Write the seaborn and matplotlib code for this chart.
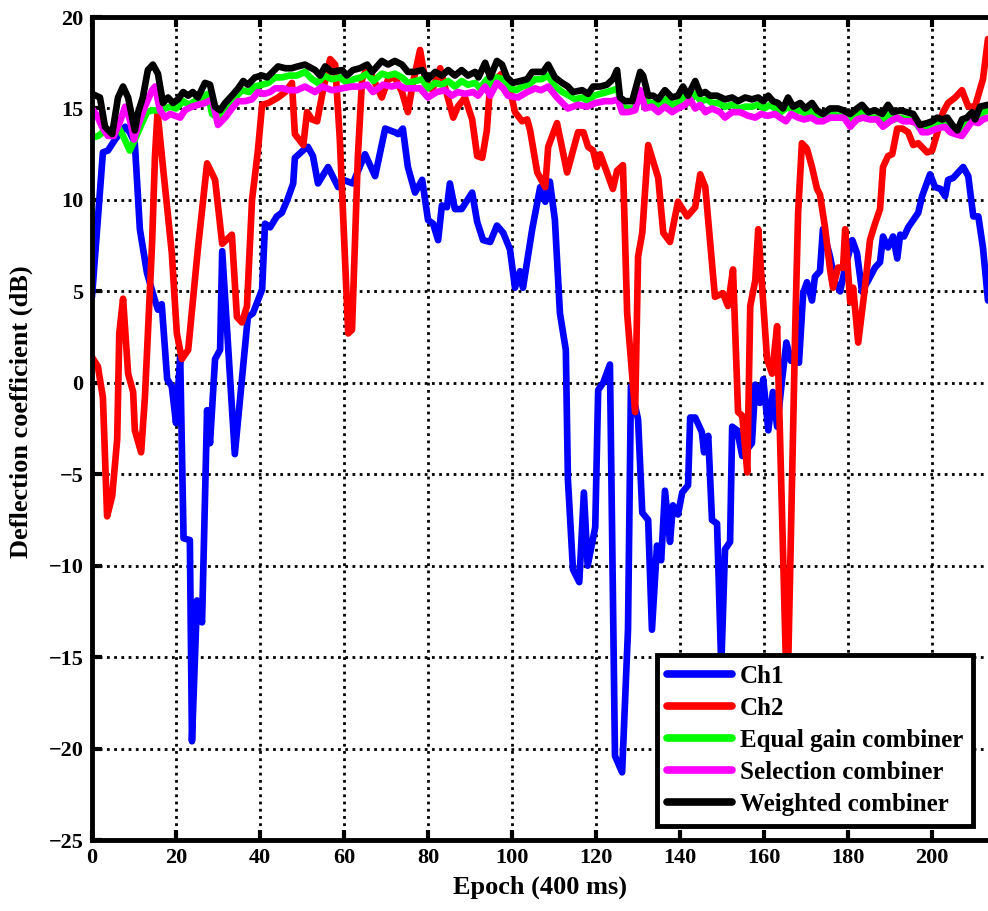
import numpy as np
import pandas as pd
import matplotlib
matplotlib.use("Agg")
import matplotlib.pyplot as plt
import seaborn as sns

ch1_x = [0, 2.6, 3.8, 5.5, 7.9, 9, 10.2, 11.4, 13.1, 15, 15.7, 16.6, 17.9, 19, 20, 21, 21.8, 23.3, 23.8, 25, 26.2, 27.4, 28.1, 29.3, 30.5, 31, 34, 37.1, 38.3, 40.5, 41.2, 42.4, 44, 45.2, 46.5, 47.9, 48.3, 50.7, 51.4, 52.6, 53.8, 56.2, 58.6, 59.8, 62.1, 65, 67.4, 69.8, 72.1, 72.9, 74, 75.2, 76.9, 78.6, 80, 81.2, 82.4, 83.3, 84.5, 85.2, 86.4, 88, 90.5, 91.7, 93.1, 94.8, 96.4, 97.9, 99.5, 100.7, 101.9, 102.6, 104.8, 106.7, 107.9, 109, 110.2, 111.4, 112.8, 113.3, 114.5, 116, 117.1, 118, 119.8, 120.5, 121.7, 123.3, 124.5, 126.2, 127.6, 128.3, 130, 131, 132.4, 133.3, 134.5, 135.5, 136.4, 137.6, 138.3, 139.5, 140.5, 141.9, 142.4, 143.6, 145.2, 145.7, 146.7, 147.6, 148.8, 149.8, 150.7, 151.9, 152.4, 153.6, 154.8, 157.1, 157.9, 159, 159.8, 161, 162.1, 163.1, 164.3, 165.3, 166.4, 167.4, 168.3, 169.3, 170.2, 171.4, 172.1, 173.3, 174, 175.7, 176.9, 178.1, 179.3, 181, 182.1, 183.3, 184.8, 186.4, 187.6, 188.3, 189.5, 190.7, 191.7, 192.4, 193.3, 194.3, 196.7, 197.6, 199.5, 200.7, 202, 203.1, 203.8, 205, 207.4, 208.6, 209.8, 211, 212.1, 213.3]
ch1_y = [4.7, 12.6, 12.7, 13.3, 14.0, 13.7, 13.1, 8.4, 6.0, 4.5, 4.0, 4.3, 0.2, -0.2, -2.2, 1.4, -8.5, -8.6, -19.6, -11.9, -13.1, -1.5, -3.3, 1.3, 1.8, 7.2, -3.9, 3.6, 3.8, 5.1, 8.7, 8.5, 9.1, 9.3, 10.0, 10.9, 12.3, 12.8, 12.9, 12.4, 10.9, 11.8, 10.7, 11.1, 10.9, 12.5, 11.3, 13.9, 13.7, 13.6, 13.9, 11.8, 10.4, 11.1, 8.9, 8.7, 7.8, 9.7, 9.6, 10.9, 9.5, 9.5, 10.4, 8.8, 7.8, 7.7, 8.6, 8.2, 7.3, 5.2, 6.1, 5.2, 8.4, 10.7, 9.9, 11.0, 8.9, 3.8, 1.8, -5.3, -10.2, -10.9, -6.0, -10.0, -7.9, -0.4, 0.0, 1.0, -20.4, -21.3, -13.5, -0.2, -2.0, -7.1, -7.5, -13.5, -8.9, -9.7, -5.9, -8.7, -6.7, -7.2, -6.0, -5.6, -1.9, -1.9, -2.7, -3.8, -2.9, -7.5, -7.7, -15.5, -9.1, -8.7, -2.4, -2.6, -4.0, -3.3, -0.1, -1.1, 0.2, -2.6, -0.5, -2.4, 0.2, 2.2, 1.2, 1.6, 1.1, 4.9, 5.5, 4.5, 5.8, 6.1, 8.4, 6.9, 5.5, 5.0, 6.3, 7.8, 7.1, 5.0, 5.6, 6.3, 6.6, 8.0, 7.4, 8.0, 6.8, 8.1, 8.0, 8.5, 9.3, 10.2, 11.4, 10.7, 10.6, 10.2, 11.1, 11.2, 11.8, 11.3, 9.1, 9.1, 7.4, 4.5]

ch2_x = [0, 1.4, 2.6, 3.6, 4.8, 6, 6.5, 7.4, 8.6, 9.8, 10.2, 11.7, 12.6, 14.3, 15, 15.6, 16.9, 19, 20.2, 21.4, 22.9, 25.2, 27.4, 29.3, 31, 33.3, 34.5, 35.7, 36.9, 38.1, 39.5, 40.5, 42, 44.3, 46, 47.6, 48.3, 50.3, 51.2, 52.4, 53.6, 55, 56.7, 57.9, 59, 61, 61.9, 63.3, 64.3, 65.7, 67.4, 69, 70.5, 72.1, 73.8, 75.2, 76.4, 78.1, 79.3, 81, 82.9, 84, 86, 87.1, 88.8, 90.5, 91.7, 92.9, 94, 94.8, 96, 97.6, 99, 100.7, 102.4, 103.6, 104.3, 106, 107.9, 108.6, 110.7, 113.1, 115.7, 117, 118.1, 119.3, 120.2, 121, 122.6, 124, 125, 126.4, 127.4, 129.3, 130, 131, 132.4, 134.8, 136, 137.6, 139.5, 141.7, 143.6, 144.8, 146, 148.3, 150.2, 151.4, 152.6, 153.8, 154.8, 156, 156.7, 157.9, 158.6, 160.7, 161.9, 163.1, 165.5, 167.4, 168.1, 169, 170.2, 171.4, 172.6, 173.3, 174.5, 175.7, 176.4, 177.6, 178.8, 179.3, 180.5, 181.2, 182.4, 184, 185.2, 186.4, 187.6, 188.3, 189.5, 190.5, 191.7, 192.9, 194.3, 195.5, 196.7, 198.8, 200, 201.4, 202.6, 203.8, 205.5, 207.1, 208.6, 210.2, 212.1, 213.3]
ch2_y = [1.4, 0.9, -0.8, -7.3, -6.2, -3.1, 2.7, 4.6, 0.5, -0.5, -2.6, -3.8, -0.8, 7.6, 12.4, 14.8, 11.8, 7.1, 2.7, 1.3, 1.8, 7.3, 12.0, 11.1, 7.6, 8.1, 3.6, 3.3, 4.2, 10.0, 12.7, 15.2, 15.3, 15.6, 15.9, 16.4, 13.6, 13.0, 14.8, 14.4, 14.3, 16.0, 17.7, 17.4, 13.3, 2.7, 2.9, 12.4, 16.6, 17.3, 16.4, 15.6, 16.6, 16.7, 15.9, 14.8, 16.4, 18.2, 16.6, 16.0, 17.2, 16.2, 14.5, 15.1, 15.6, 14.4, 12.4, 12.3, 13.8, 16.4, 16.6, 16.9, 16.6, 14.8, 14.3, 14.4, 13.8, 11.5, 10.7, 12.9, 14.2, 11.5, 13.7, 13.7, 12.9, 12.7, 11.8, 12.5, 11.5, 10.6, 11.6, 11.9, 3.8, -1.6, 6.9, 8.2, 13.0, 11.2, 8.2, 7.7, 9.9, 9.1, 9.6, 11.4, 10.7, 4.7, 4.9, 4.2, 6.2, -1.6, -1.8, -4.9, 4.2, 5.6, 8.4, 1.3, 0.5, 3.1, -18.0, 2.9, 9.3, 13.1, 12.8, 11.8, 10.6, 10.3, 8.5, 6.2, 5.2, 6.3, 6.3, 8.4, 4.4, 5.2, 2.2, 5.2, 7.8, 8.7, 9.5, 11.8, 12.4, 12.5, 13.9, 13.9, 13.7, 13.0, 13.1, 12.6, 12.7, 13.8, 14.8, 15.3, 15.6, 16.0, 15.1, 15.1, 16.6, 18.8]

egc_x = [0, 1.5, 3.1, 5.5, 6.2, 7.4, 9, 10.2, 11.9, 13.1, 14.3, 15.7, 17.4, 18.6, 20, 21.7, 23, 24.5, 26.2, 27.6, 28.6, 29.8, 31, 32.6, 34.1, 35.7, 37.4, 38.8, 40.5, 42, 43.6, 45.2, 47, 48.8, 50.7, 52.4, 53.8, 55.2, 57.1, 59, 60.7, 62.4, 64, 65.5, 67, 69, 70.5, 72.1, 73.8, 75.2, 77, 78.6, 80, 81.7, 83.3, 84.8, 86.4, 88, 89.5, 91.2, 92.4, 94, 95.2, 96.4, 98, 99.5, 101, 102.4, 104, 105.5, 107, 108.6, 110.2, 112, 113.6, 115, 116.7, 118.1, 119.5, 121, 122.6, 124, 125.2, 126, 127.4, 129, 130.5, 131.4, 132.6, 134, 135.2, 136.7, 138.1, 139.5, 140.9, 142.1, 143.6, 145, 146.4, 147.6, 149, 150.7, 152.4, 154, 155.5, 157.1, 158.6, 160, 161.4, 162.6, 164, 165.7, 167.1, 168.6, 170, 171.4, 172.6, 174, 175.7, 177.6, 179, 180.5, 182.1, 183.3, 185, 186.4, 188.1, 189.5, 190.9, 192.4, 194, 195.5, 197.1, 198.8, 200, 201.4, 202.6, 204, 205, 206.2, 207.4, 208.6, 209.8, 211, 212.1, 213.3]
egc_y = [13.4, 13.5, 13.8, 13.7, 14.0, 13.5, 12.7, 13.3, 14.2, 14.8, 14.9, 14.9, 15.0, 15.1, 15.0, 15.4, 15.2, 15.4, 15.6, 15.8, 14.7, 14.5, 14.9, 15.3, 15.6, 16.0, 15.9, 16.2, 16.3, 16.4, 16.7, 16.7, 16.8, 16.8, 17.0, 16.6, 16.4, 16.8, 16.6, 16.7, 16.4, 16.6, 16.7, 16.9, 16.5, 16.9, 16.8, 16.9, 16.7, 16.4, 16.5, 16.6, 16.1, 16.4, 16.3, 16.5, 16.2, 16.5, 16.3, 16.4, 16.1, 16.6, 16.2, 16.7, 16.6, 16.1, 16.0, 16.2, 16.3, 16.6, 16.6, 16.8, 16.2, 15.9, 15.7, 15.5, 15.6, 15.4, 15.7, 15.8, 15.9, 16.0, 16.1, 15.1, 15.0, 15.0, 15.6, 15.8, 15.3, 15.3, 15.1, 15.5, 15.2, 15.3, 15.7, 15.3, 15.8, 15.4, 15.5, 15.3, 15.3, 15.1, 15.2, 15.0, 15.1, 15.1, 15.2, 15.0, 15.2, 15.0, 14.8, 15.1, 14.8, 14.9, 14.7, 14.9, 14.6, 14.4, 14.7, 14.6, 14.6, 14.4, 14.6, 14.8, 14.5, 14.5, 14.3, 14.7, 14.4, 14.5, 14.4, 14.4, 13.9, 14.0, 14.1, 14.2, 14.2, 14.2, 13.9, 13.8, 14.1, 14.3, 14.5, 14.4, 14.8, 14.9]

sc_x = [0, 1.2, 2.4, 3.8, 5.2, 6.7, 7.9, 9, 10, 11, 12.6, 14.3, 15, 16.2, 17.4, 18.6, 19.8, 21, 22.1, 23.8, 25.2, 26.9, 28.6, 30, 31.7, 33.3, 34.8, 36.4, 38.1, 39.5, 41, 42.4, 43.6, 45.5, 47, 48.8, 50.7, 53.1, 54.8, 57.1, 59.5, 61.9, 63.8, 65.5, 66.9, 69.3, 71.4, 72.9, 74.5, 76.2, 78.1, 80, 82.1, 84, 85.7, 87.1, 88.8, 90.7, 91.9, 93.6, 94.8, 96.4, 97.9, 99, 101.4, 103.6, 105.5, 106.9, 108.6, 110.7, 113.3, 115.7, 117.9, 119.8, 122.1, 123.8, 125.2, 126.2, 127.6, 129.3, 130.5, 131.7, 133.3, 134.8, 136.4, 138.1, 139.5, 141.2, 142.4, 143.6, 144.8, 146, 147.6, 149.5, 150.7, 152.4, 154.3, 156.2, 157.9, 159.3, 160.9, 162.6, 163.8, 165.2, 166.4, 168.1, 169.5, 171.2, 172.6, 174, 175.7, 177.6, 179, 180.5, 182.1, 183.6, 185.2, 186.9, 188.3, 190, 191.7, 193.1, 194.8, 196.4, 197.6, 199, 201.2, 203.1, 204.3, 205.5, 207.1, 208.3, 209.5, 211, 212.1, 213.3]
sc_y = [15.0, 14.6, 14.0, 13.5, 13.5, 14.3, 15.1, 14.4, 13.3, 14.1, 15.1, 16.0, 16.2, 14.9, 14.5, 14.7, 14.6, 14.5, 14.9, 15.1, 15.2, 15.3, 15.5, 14.1, 14.5, 15.0, 15.4, 15.4, 15.5, 15.9, 15.8, 15.9, 16.1, 16.1, 16.0, 16.0, 16.2, 15.9, 16.2, 16.0, 16.1, 16.2, 16.2, 16.3, 15.9, 16.3, 16.2, 16.3, 16.1, 16.1, 16.1, 15.6, 15.9, 16.0, 15.7, 15.9, 15.8, 15.9, 15.7, 16.2, 15.7, 16.4, 16.1, 15.7, 15.6, 15.9, 16.1, 16.0, 16.2, 15.6, 15.0, 15.2, 15.1, 15.3, 15.4, 15.4, 15.5, 14.8, 14.8, 14.9, 16.0, 15.0, 15.1, 14.8, 15.1, 14.8, 15.0, 15.2, 15.5, 15.0, 15.2, 14.8, 15.0, 14.8, 14.5, 14.8, 14.8, 14.6, 14.5, 14.7, 14.6, 14.7, 14.5, 14.3, 14.7, 14.5, 14.4, 14.5, 14.3, 14.3, 14.5, 14.5, 14.5, 14.0, 14.4, 14.5, 14.4, 14.4, 14.0, 14.3, 14.5, 14.3, 14.3, 14.2, 13.7, 13.7, 13.9, 14.0, 13.7, 13.6, 13.5, 13.9, 14.3, 14.2, 14.4, 14.5]

wc_x = [0, 1.9, 3.1, 4.8, 6.2, 7.4, 8.6, 10.2, 11, 12.1, 13.3, 14.5, 15.7, 16.9, 18.1, 19.3, 20.5, 21.7, 22.9, 24, 25.2, 26.9, 28.1, 29.3, 30.5, 31.7, 33.3, 34.8, 36, 37.1, 38.8, 40.5, 41.7, 43, 44.3, 46, 47.5, 49, 50.7, 53.1, 54.3, 55.5, 57.1, 59.5, 60.7, 62.1, 63.8, 65.5, 66.7, 69, 70.5, 72.1, 73.8, 75.2, 76.9, 78.6, 80, 81.7, 83.3, 84.8, 86.4, 88, 89.5, 91.2, 92, 93.6, 94.8, 96.4, 97.6, 98.8, 100.2, 101.9, 103.6, 104.8, 106.2, 107.4, 108.6, 110.2, 111.9, 113.3, 114.5, 116.7, 118.1, 119.3, 121, 122.6, 124, 125, 125.7, 126.9, 128.6, 130.5, 131.2, 132.4, 133.6, 134.8, 136.4, 138.1, 139.5, 140.7, 141.9, 143.6, 144.8, 146, 147.1, 148.8, 150.7, 152.4, 153.8, 155.5, 157.1, 158.6, 159.8, 161, 162.1, 163.3, 164.5, 165.7, 166.9, 168.6, 169.8, 171.4, 172.6, 174, 175.7, 177.6, 178.8, 180.5, 182.1, 183.3, 184.8, 186.4, 188.1, 189.5, 190.7, 192.4, 194, 195.5, 197.1, 198.8, 200, 201.2, 202.4, 203.6, 204.8, 206, 207.1, 208.3, 209.5, 210.2, 211.4, 213.3]
wc_y = [15.8, 15.6, 14.0, 13.6, 15.6, 16.2, 15.6, 13.8, 14.8, 15.6, 17.1, 17.4, 16.9, 15.3, 15.6, 15.3, 15.5, 15.9, 15.7, 15.9, 15.6, 16.4, 16.3, 15.1, 14.9, 15.3, 15.7, 16.1, 16.5, 16.3, 16.7, 16.8, 16.7, 17.0, 17.3, 17.2, 17.2, 17.3, 17.4, 17.1, 16.8, 17.3, 17.0, 17.1, 16.8, 17.1, 17.2, 17.4, 17.0, 17.6, 17.4, 17.6, 17.4, 17.0, 17.0, 17.1, 16.6, 17.0, 16.8, 17.1, 16.8, 17.1, 16.8, 17.0, 16.7, 17.5, 16.7, 17.6, 17.4, 16.7, 16.4, 16.5, 16.6, 17.0, 17.0, 17.0, 17.4, 16.7, 16.4, 16.2, 15.9, 16.0, 15.8, 16.2, 16.2, 16.3, 16.6, 17.1, 15.6, 15.4, 15.4, 17.0, 16.8, 15.7, 15.7, 15.5, 16.0, 15.6, 15.7, 16.2, 15.7, 16.5, 15.8, 15.9, 15.7, 15.7, 15.5, 15.6, 15.4, 15.6, 15.5, 15.6, 15.4, 15.7, 15.4, 15.3, 15.0, 15.6, 15.1, 15.3, 15.0, 15.3, 14.9, 14.7, 15.0, 15.0, 14.9, 14.7, 15.0, 15.2, 14.8, 14.9, 14.7, 15.2, 14.8, 14.9, 14.8, 14.7, 14.1, 14.2, 14.3, 14.5, 14.4, 14.5, 14.1, 13.8, 14.4, 14.5, 14.8, 14.4, 15.1, 15.2]

labels = ["Ch1", "Ch2", "Equal gain combiner", "Selection combiner", "Weighted combiner"]
colors = ["#0000FF", "#FF0000", "#00FF00", "#FF00FF", "#000000"]
xs = [ch1_x, ch2_x, egc_x, sc_x, wc_x]
ys = [ch1_y, ch2_y, egc_y, sc_y, wc_y]

frames = []
for lab, x, y in zip(labels, xs, ys):
    frames.append(pd.DataFrame({"epoch": x, "dc": y, "series": lab}))
df = pd.concat(frames, ignore_index=True)

sns.set_theme(style="white")
plt.rcParams['font.family'] = ['Liberation Serif', 'DejaVu Serif']
plt.rcParams['font.weight'] = 'bold'
plt.rcParams['text.color'] = 'black'
plt.rcParams['axes.labelcolor'] = 'black'
plt.rcParams['xtick.color'] = 'black'
plt.rcParams['ytick.color'] = 'black'

fig = plt.figure(figsize=(9.88, 9.11), dpi=100)
ax = fig.add_axes([0.0931, 0.0779, 0.9069, 0.9034])

for lab, col in zip(labels, colors):
    sub = df[df["series"] == lab]
    sns.lineplot(data=sub, x="epoch", y="dc", color=col, linewidth=4.8,
                 sort=False, estimator=None, ax=ax, label=lab, legend=False)

ax.set_xlim(0, 213.3)
ax.set_ylim(-25, 20)
ax.set_xticks(np.arange(0, 201, 20))
ax.set_yticks(np.arange(-25, 21, 5))
ax.grid(True, color="black", linestyle=(0, (1, 1.6)), linewidth=2.0)
ax.set_axisbelow(True)

for side in ["left", "bottom", "top"]:
    ax.spines[side].set_visible(True)
    ax.spines[side].set_color("black")
    ax.spines[side].set_linewidth(3.5)
ax.spines["right"].set_visible(False)

ax.tick_params(axis="both", direction="in", length=7, width=3, colors="black",
               labelsize=16, top=True, bottom=True, left=True, right=False, pad=6)
for t in ax.get_xticklabels() + ax.get_yticklabels():
    t.set_fontweight("bold")
    t.set_color("black")

ax.set_xlabel("Epoch (400 ms)", fontsize=19, fontweight="bold", color="black", labelpad=5)
ax.set_ylabel("Deflection coefficient (dB)", fontsize=19, fontweight="bold", color="black", labelpad=2)
ax.yaxis.set_label_coords(-0.066, 0.52)

handles = ax.get_lines()[:5]
leg = ax.legend(handles, labels, loc="lower left", bbox_to_anchor=(0.631, 0.017),
                prop={"family": "Liberation Serif", "weight": "bold", "size": 18},
                frameon=True, fancybox=False, framealpha=1, edgecolor="black",
                handlelength=2.6, handletextpad=0.3, labelspacing=0.36,
                borderpad=0.4, borderaxespad=0)
leg.get_frame().set_linewidth(3.5)
for h in leg.get_lines():
    h.set_linewidth(5.5)
for t in leg.get_texts():
    t.set_color("black")

fig.savefig("out.png", dpi=100)
